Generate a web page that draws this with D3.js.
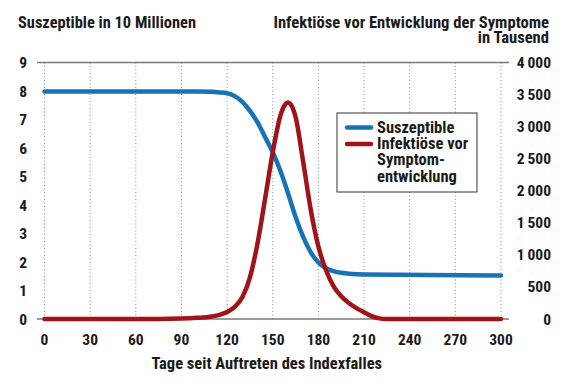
<!DOCTYPE html>
<html><head><meta charset="utf-8">
<script src="https://cdn.jsdelivr.net/npm/d3@7"></script>
<style>
body{margin:0;background:#fff;}
text{font-family:"Liberation Sans Narrow","Roboto Condensed","Liberation Sans",Arial,sans-serif;font-weight:bold;fill:#1a1a1a;}
</style></head>
<body><svg id="c" width="573" height="388"></svg>
<script>
const xTicks = [0,30,60,90,120,150,180,210,240,270,300];
const leftTicks = [0,1,2,3,4,5,6,7,8,9];
const rightTicks = [0,500,1000,1500,2000,2500,3000,3500,4000];
const susDays = [0,50,100,110,115,120,125,130,135,140,145,150,155,160,165,170,175,180,185,190,195,200,210,230,300];
const susVals = [7.98,7.98,7.98,7.97,7.95,7.92,7.82,7.62,7.3,6.9,6.38,5.85,5.2,4.42,3.58,2.88,2.34,1.98,1.78,1.68,1.62,1.59,1.56,1.55,1.53];
const infDays = [0,30,60,90,100,110,115,120,125,130,135,140,145,150,155,158,160,162,165,170,175,180,185,190,195,200,205,210,215,220,225,260,300];
const infVals = [0,0,0,8,18,40,65,110,190,340,650,1180,1880,2600,3170,3340,3375,3340,3150,2450,1700,1130,760,510,355,250,170,105,45,10,0,0,0];
const titleLeft = "Suszeptible in 10 Millionen";
const titleRight = ["Infektiöse vor Entwicklung der Symptome","in Tausend"];
const xLabel = "Tage seit Auftreten des Indexfalles";
const legendItems = [{name:["Suszeptible"],color:"#1872b6"},{name:["Infektiöse vor","Symptom-","entwicklung"],color:"#a01419"}];

const svg = d3.select("#c");
const x = d3.scaleLinear().domain([0,300]).range([44.5,501]);
const yL = d3.scaleLinear().domain([0,9]).range([319,62.5]);
const yR = d3.scaleLinear().domain([0,4000]).range([319,62.5]);

// gridlines
svg.append("g").selectAll("line").data(xTicks).join("line")
  .attr("x1",d=>x(d)).attr("x2",d=>x(d)).attr("y1",yL(9)).attr("y2",yL(0))
  .attr("stroke","#888").attr("stroke-width",1).attr("stroke-dasharray","1,2.5");
// top/bottom lines
[9,0].forEach(v=>{
  svg.append("line").attr("x1",37).attr("x2",509).attr("y1",yL(v)).attr("y2",yL(v))
    .attr("stroke","#7a7a7a").attr("stroke-width",1.5);
});

// axes labels
const fs = 15.5;
svg.append("g").selectAll("text").data(leftTicks).join("text")
  .attr("x",27).attr("y",d=>yL(d)+5.5).attr("text-anchor","end").attr("font-size",fs).text(d=>d);
const fmt = d=> d>=1000 ? Math.floor(d/1000)+"\u2009"+String(d%1000).padStart(3,"0") : String(d);
svg.append("g").selectAll("text").data(rightTicks).join("text")
  .attr("x",551).attr("y",d=>yR(d)+5.5).attr("text-anchor","end").attr("font-size",fs).text(fmt);
svg.append("g").selectAll("text").data(xTicks).join("text")
  .attr("x",d=>x(d)).attr("y",345).attr("text-anchor","middle").attr("font-size",fs).text(d=>d);

// titles
svg.append("text").attr("x",18).attr("y",28).attr("font-size",16.4).text(titleLeft);
titleRight.forEach((t,i)=>svg.append("text").attr("x",549).attr("y",27.5+i*15.5).attr("text-anchor","end").attr("font-size",16.6).text(t));
svg.append("text").attr("x",x(150)-6).attr("y",369).attr("text-anchor","middle").attr("font-size",16.5).text(xLabel);

// lines
const susData = susDays.map((d,i)=>[d,susVals[i]]);
const infData = infDays.map((d,i)=>[d,infVals[i]]);
svg.append("path").datum(susData).attr("fill","none").attr("stroke",legendItems[0].color)
  .attr("stroke-width",4.5).attr("stroke-linecap","round")
  .attr("d",d3.line().x(d=>x(d[0])).y(d=>yL(d[1])).curve(d3.curveMonotoneX));
svg.append("path").datum(infData).attr("fill","none").attr("stroke",legendItems[1].color)
  .attr("stroke-width",4.5).attr("stroke-linecap","round")
  .attr("d",d3.line().x(d=>x(d[0])).y(d=>yR(d[1])).curve(d3.curveMonotoneX));

// legend
const lg = svg.append("g");
lg.append("rect").attr("x",337).attr("y",113).attr("width",140).attr("height",79)
  .attr("fill","#fff").attr("stroke","#333").attr("stroke-width",1);
let ly = 132.5;
legendItems.forEach(it=>{
  lg.append("line").attr("x1",347).attr("x2",371).attr("y1",ly-5).attr("y2",ly-5)
    .attr("stroke",it.color).attr("stroke-width",4.5).attr("stroke-linecap","round");
  it.name.forEach((t,i)=>{
    lg.append("text").attr("x",377).attr("y",ly).attr("font-size",16.5).text(t);
    ly += 16.4;
  });
});
</script></body></html>
